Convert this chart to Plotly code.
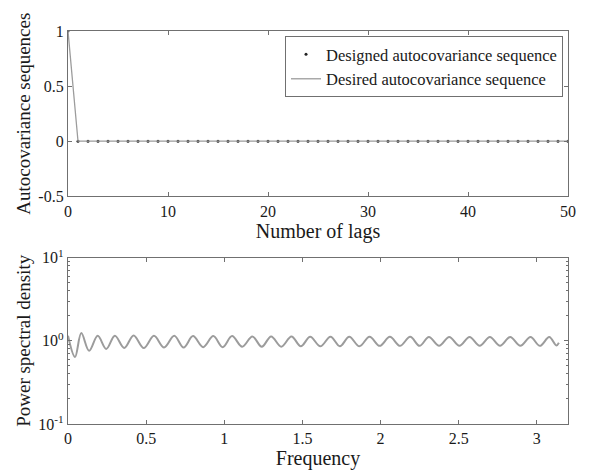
import plotly.graph_objects as go

# ---- Top panel data ----
lags = list(range(51))
designed_acs = [1.0] + [0.0] * 50
desired_acs = [1.0] + [0.0] * 50

# ---- Bottom panel data (peaks/troughs of the ripple) ----
psd_freq = [0.0, 0.045, 0.085, 0.135, 0.19, 0.245, 0.30, 0.36, 0.42, 0.485, 0.55,
            0.615, 0.68, 0.74, 0.80, 0.865, 0.93, 0.99, 1.05, 1.115, 1.18, 1.24,
            1.30, 1.365, 1.43, 1.49, 1.55, 1.615, 1.68, 1.74, 1.80, 1.865, 1.93,
            1.995, 2.06, 2.125, 2.19, 2.25, 2.31, 2.375, 2.44, 2.505, 2.57, 2.635,
            2.70, 2.765, 2.83, 2.895, 2.96, 3.02, 3.08, 3.125, 3.1416]
psd_vals = [1.15, 0.64, 1.24, 0.76, 1.15, 0.80, 1.15, 0.82, 1.16, 0.82, 1.15,
            0.83, 1.15, 0.83, 1.14, 0.84, 1.14, 0.84, 1.14, 0.85, 1.13, 0.85,
            1.13, 0.85, 1.13, 0.86, 1.12, 0.86, 1.12, 0.86, 1.12, 0.86, 1.12,
            0.87, 1.12, 0.87, 1.12, 0.87, 1.11, 0.87, 1.11, 0.87, 1.11, 0.87,
            1.11, 0.87, 1.11, 0.87, 1.11, 0.87, 1.11, 0.88, 0.95]

top_yticks = [-0.5, 0, 0.5, 1]
top_yticktext = ["-0.5", "0", "0.5", "1"]
top_xticks = [0, 10, 20, 30, 40, 50]
bot_xticks = [0, 0.5, 1, 1.5, 2, 2.5, 3]
bot_xticktext = ["0", "0.5", "1", "1.5", "2", "2.5", "3"]
bot_yticks = [0.1, 1, 10]
bot_yticktext = ["10<sup>-1</sup>", "10<sup>0</sup>", "10<sup>1</sup>"]
bot_minor = [0.2, 0.3, 0.4, 0.5, 0.6, 0.7, 0.8, 0.9, 2, 3, 4, 5, 6, 7, 8, 9]

FONT = "Liberation Serif, Times New Roman, serif"
AXC = "#707070"
TXT = "#1a1a1a"
LINEC = "#9c9c9c"

fig = go.Figure()

fig.add_trace(go.Scatter(x=lags, y=designed_acs, mode="markers",
                         marker=dict(size=3, color="#222222"),
                         name="Designed autocovariance sequence",
                         xaxis="x", yaxis="y"))
fig.add_trace(go.Scatter(x=lags, y=desired_acs, mode="lines",
                         line=dict(color=LINEC, width=1.3),
                         name="Desired autocovariance sequence",
                         xaxis="x", yaxis="y"))
fig.add_trace(go.Scatter(x=psd_freq, y=psd_vals, mode="lines",
                         line=dict(color=LINEC, width=2, shape="spline", smoothing=1.0),
                         showlegend=False, xaxis="x2", yaxis="y2"))

axis_common = dict(showline=True, mirror="ticks", linecolor=AXC, linewidth=1.2,
                   ticks="inside", ticklen=4, tickcolor=AXC, showgrid=False,
                   zeroline=False, tickfont=dict(family=FONT, size=16, color=TXT))
xtitle_font = dict(family=FONT, size=20, color=TXT)
ytitle_font = dict(family=FONT, size=19, color=TXT)

fig.update_layout(
    width=582, height=465,
    margin=dict(l=60, r=22, t=20, b=48),
    paper_bgcolor="white", plot_bgcolor="white",
    font=dict(family=FONT, size=16, color=TXT),
    xaxis=dict(domain=[0, 1], anchor="y", range=[0, 50], tickvals=top_xticks,
               title=dict(text="Number of lags", font=xtitle_font, standoff=0),
               **axis_common),
    yaxis=dict(domain=[0.5793, 1], anchor="x", range=[-0.5, 1], tickvals=top_yticks,
               ticktext=top_yticktext,
               title=dict(text="Autocovariance sequences", font=ytitle_font, standoff=2),
               **axis_common),
    xaxis2=dict(domain=[0, 1], anchor="y2", range=[0, 3.2], tickvals=bot_xticks,
                ticktext=bot_xticktext,
                title=dict(text="Frequency", font=xtitle_font, standoff=0),
                **axis_common),
    yaxis2=dict(domain=[0, 0.4232], anchor="x2", type="log", range=[-1, 1],
                tickvals=bot_yticks, ticktext=bot_yticktext,
                title=dict(text="Power spectral density", font=ytitle_font, standoff=2),
                minor=dict(ticks="inside", ticklen=2, tickcolor=AXC, tickvals=bot_minor),
                **axis_common),
    legend=dict(x=0.99, y=0.987, xanchor="right", yanchor="top",
                bordercolor=AXC, borderwidth=1, bgcolor="white",
                font=dict(family=FONT, size=16.5, color=TXT),
                tracegroupgap=0, itemwidth=30),
)

fig.write_html("out.html")
